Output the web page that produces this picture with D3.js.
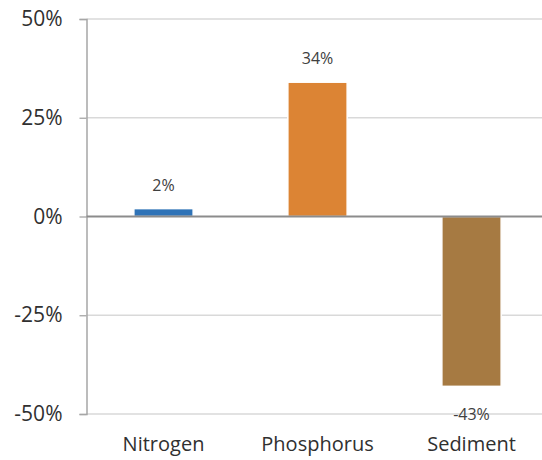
<!DOCTYPE html>
<html>
<head>
<meta charset="utf-8">
<script src="https://cdn.jsdelivr.net/npm/d3@7"></script>
<style>
  html, body { margin: 0; padding: 0; background: #fff; }
  svg { display: block; font-family: "Open Sans", "Noto Sans", sans-serif; }
</style>
</head>
<body>
<svg id="chart" width="542" height="460"></svg>
<script>
// Change in load by pollutant
const categories = ["Nitrogen", "Phosphorus", "Sediment"];
const values = [2, 34, -43];
const colors = ["#2f73b7", "#dc8434", "#a67a42"];
const yTicks = [-50, -25, 0, 25, 50];

(function () {
  const svg = d3.select("#chart");
  const plotLeft = 86.5, plotRight = 548.5, plotTop = 19, plotBottom = 414;

  const x = d3.scaleBand().domain(categories).range([plotLeft, plotRight]).paddingInner(0).paddingOuter(0);
  const y = d3.scaleLinear().domain([-50, 50]).range([plotBottom, plotTop]);
  const barW = x.bandwidth() * 0.385;

  // horizontal gridlines
  svg.append("g").selectAll("line").data(yTicks.filter(d => d !== 0)).join("line")
    .attr("x1", plotLeft).attr("x2", 542)
    .attr("y1", d => y(d)).attr("y2", d => y(d))
    .attr("stroke", "#d9d9d9").attr("stroke-width", 1.3);

  // left axis with ticks and labels
  const yAxis = d3.axisLeft(y).tickValues(yTicks).tickFormat(d => d + "%").tickSize(7).tickPadding(17);
  const ga = svg.append("g").attr("transform", `translate(${plotLeft},0)`).call(yAxis);
  ga.select(".domain").attr("stroke", "#a6a6a6").attr("stroke-width", 1.5);
  ga.selectAll(".tick line").attr("stroke", "#a6a6a6").attr("stroke-width", 1.3);
  ga.selectAll(".tick text").attr("fill", "#303030").attr("font-size", 21)
    .attr("font-family", "'Open Sans', sans-serif");

  // bars
  svg.append("g").selectAll("rect").data(values).join("rect")
    .attr("x", (d, i) => x(categories[i]) + (x.bandwidth() - barW) / 2)
    .attr("width", barW)
    .attr("y", d => y(Math.max(0, d)))
    .attr("height", d => Math.abs(y(d) - y(0)))
    .attr("fill", (d, i) => colors[i])
    .attr("stroke", "#fff").attr("stroke-width", 1.5);

  // zero line
  svg.append("line")
    .attr("x1", plotLeft).attr("x2", 542)
    .attr("y1", y(0)).attr("y2", y(0))
    .attr("stroke", "#8c8c8c").attr("stroke-width", 1.8);

  // value labels
  svg.append("g").selectAll("text").data(values).join("text")
    .attr("x", (d, i) => x(categories[i]) + x.bandwidth() / 2)
    .attr("y", d => d >= 0 ? y(d) - 18 : y(d) + 34)
    .attr("text-anchor", "middle")
    .attr("fill", "#404040").attr("font-size", 16)
    .text(d => d + "%");

  // category labels
  svg.append("g").selectAll("text").data(categories).join("text")
    .attr("x", d => x(d) + x.bandwidth() / 2)
    .attr("y", 451)
    .attr("text-anchor", "middle")
    .attr("fill", "#303030").attr("font-size", 20)
    .text(d => d);
})();
</script>
</body>
</html>
